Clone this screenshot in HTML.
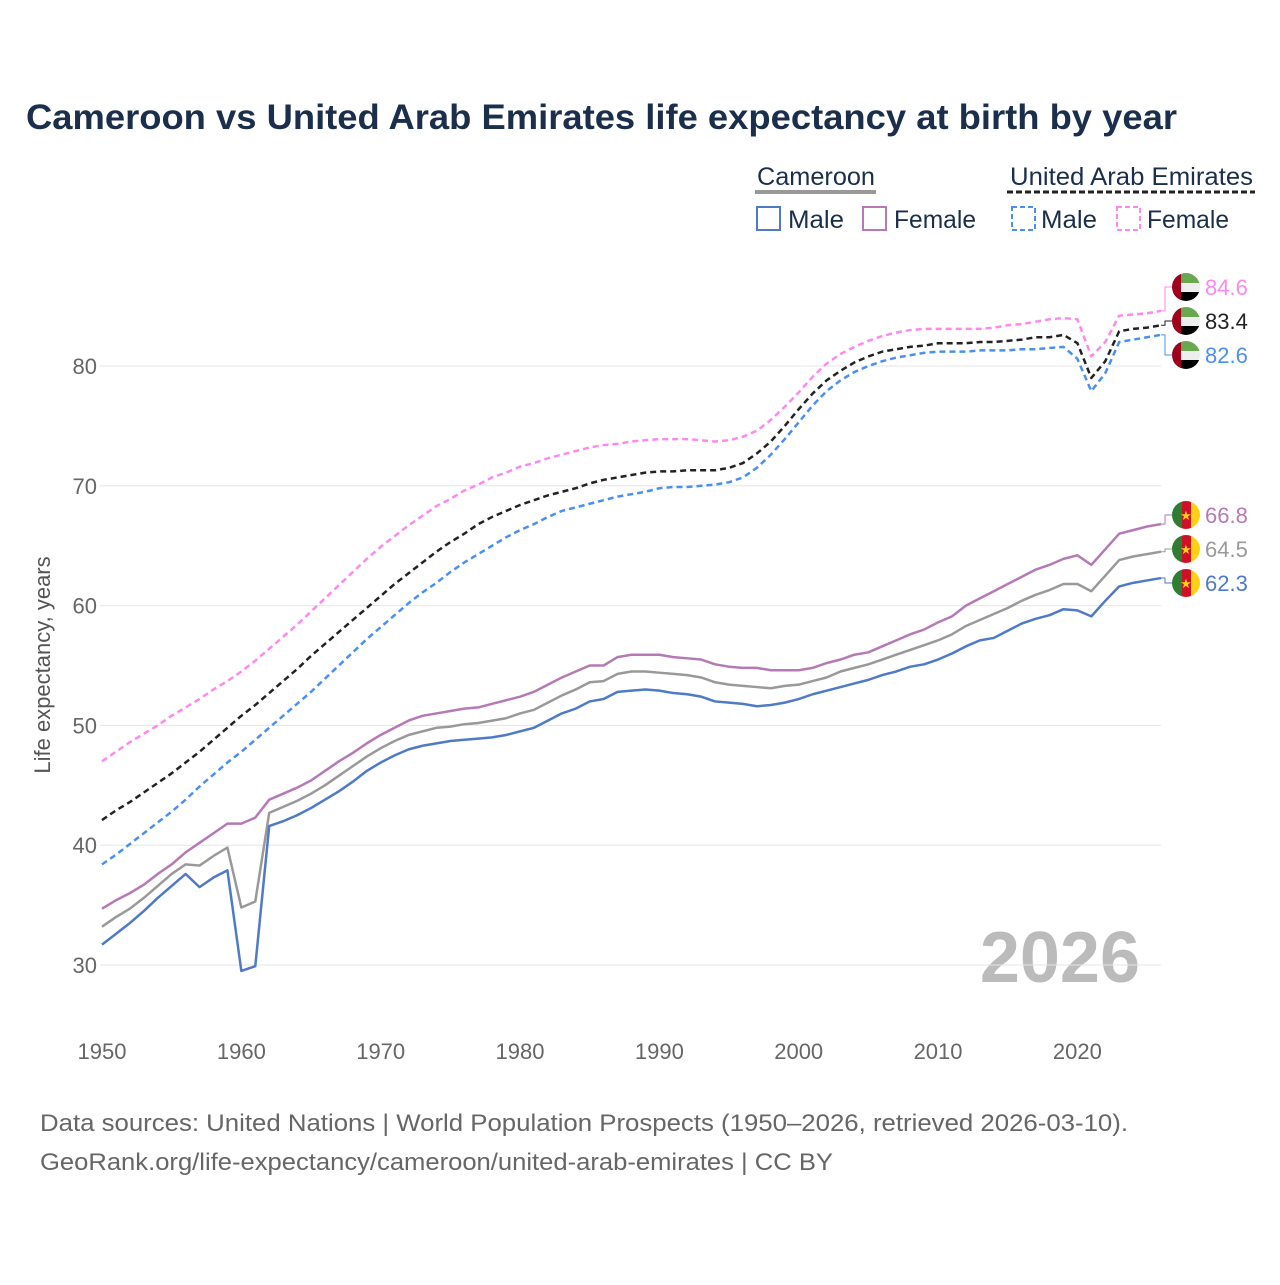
<!DOCTYPE html>
<html><head><meta charset="utf-8"><style>
body{margin:0;background:#fff;width:1280px;height:1280px;overflow:hidden;font-family:"Liberation Sans",sans-serif}
</style></head><body>
<svg id="c" width="1280" height="1280" xmlns="http://www.w3.org/2000/svg" font-family="Liberation Sans, sans-serif">
<text x="26" y="129" font-size="35" font-weight="bold" fill="#1b2f4c" textLength="1151" lengthAdjust="spacingAndGlyphs">Cameroon vs United Arab Emirates life expectancy at birth by year</text>
<g font-size="25" fill="#1b2f4c">
<text x="757" y="185" textLength="118" lengthAdjust="spacingAndGlyphs">Cameroon</text>
<line x1="755" y1="192" x2="876" y2="192" stroke="#999" stroke-width="4"/>
<text x="1010" y="185" textLength="243" lengthAdjust="spacingAndGlyphs">United Arab Emirates</text>
<line x1="1007" y1="192" x2="1255" y2="192" stroke="#222" stroke-width="3" stroke-dasharray="6,3"/>
<g><rect x="757" y="207" width="23" height="23" fill="none" stroke="#4e7ac7" stroke-width="2"/><text x="788" y="228" textLength="56" lengthAdjust="spacingAndGlyphs">Male</text></g>
<g><rect x="863" y="207" width="23" height="23" fill="none" stroke="#b57ab5" stroke-width="2"/><text x="894" y="228" textLength="82" lengthAdjust="spacingAndGlyphs">Female</text></g>
<g><rect x="1012" y="207" width="23" height="23" fill="none" stroke="#4a90f0" stroke-width="2" stroke-dasharray="5,3"/><text x="1041" y="228" textLength="56" lengthAdjust="spacingAndGlyphs">Male</text></g>
<g><rect x="1117" y="207" width="23" height="23" fill="none" stroke="#ff88ee" stroke-width="2" stroke-dasharray="5,3"/><text x="1147" y="228" textLength="82" lengthAdjust="spacingAndGlyphs">Female</text></g>
</g>
<text transform="translate(50,665) rotate(-90)" text-anchor="middle" font-size="22" fill="#555">Life expectancy, years</text>
<text x="1140" y="982" text-anchor="end" font-size="72" font-weight="bold" fill="#bbb">2026</text>
<g id="grid"></g><g id="series"></g><g id="ends"></g>
<text x="40" y="1131" font-size="24" fill="#666" textLength="1088" lengthAdjust="spacingAndGlyphs">Data sources: United Nations | World Population Prospects (1950–2026, retrieved 2026-03-10).</text>
<text x="40" y="1170" font-size="24" fill="#666" textLength="793" lengthAdjust="spacingAndGlyphs">GeoRank.org/life-expectancy/cameroon/united-arab-emirates | CC BY</text>
</svg>
<script>
const years=[];for(let y=1950;y<=2026;y++)years.push(y);
const yTicks=[30,40,50,60,70,80];
const xTicks=[1950,1960,1970,1980,1990,2000,2010,2020];
const camMale=[31.7,32.6,33.5,34.5,35.6,36.6,37.6,36.5,37.3,37.9,29.5,29.9,41.6,42.0,42.5,43.1,43.8,44.5,45.3,46.2,46.9,47.5,48.0,48.3,48.5,48.7,48.8,48.9,49.0,49.2,49.5,49.8,50.4,51.0,51.4,52.0,52.2,52.8,52.9,53.0,52.9,52.7,52.6,52.4,52.0,51.9,51.8,51.6,51.7,51.9,52.2,52.6,52.9,53.2,53.5,53.8,54.2,54.5,54.9,55.1,55.5,56.0,56.6,57.1,57.3,57.9,58.5,58.9,59.2,59.7,59.6,59.1,60.4,61.6,61.9,62.1,62.3];
const camTotal=[33.2,34.0,34.7,35.6,36.6,37.6,38.4,38.3,39.1,39.8,34.8,35.3,42.7,43.2,43.7,44.3,45.0,45.8,46.6,47.4,48.1,48.7,49.2,49.5,49.8,49.9,50.1,50.2,50.4,50.6,51.0,51.3,51.9,52.5,53.0,53.6,53.7,54.3,54.5,54.5,54.4,54.3,54.2,54.0,53.6,53.4,53.3,53.2,53.1,53.3,53.4,53.7,54.0,54.5,54.8,55.1,55.5,55.9,56.3,56.7,57.1,57.6,58.3,58.8,59.3,59.8,60.4,60.9,61.3,61.8,61.8,61.2,62.5,63.8,64.1,64.3,64.5];
const camFemale=[34.7,35.4,36.0,36.7,37.6,38.4,39.4,40.2,41.0,41.8,41.8,42.3,43.8,44.3,44.8,45.4,46.2,47.0,47.7,48.5,49.2,49.8,50.4,50.8,51.0,51.2,51.4,51.5,51.8,52.1,52.4,52.8,53.4,54.0,54.5,55.0,55.0,55.7,55.9,55.9,55.9,55.7,55.6,55.5,55.1,54.9,54.8,54.8,54.6,54.6,54.6,54.8,55.2,55.5,55.9,56.1,56.6,57.1,57.6,58.0,58.6,59.1,60.0,60.6,61.2,61.8,62.4,63.0,63.4,63.9,64.2,63.4,64.7,66.0,66.3,66.6,66.8];
const uaeFemale=[47.0,47.8,48.6,49.3,50.0,50.8,51.5,52.2,53.0,53.7,54.5,55.4,56.4,57.4,58.4,59.5,60.6,61.7,62.8,63.9,64.9,65.8,66.7,67.5,68.3,68.9,69.6,70.1,70.7,71.1,71.6,71.9,72.3,72.6,72.9,73.2,73.4,73.5,73.7,73.8,73.9,73.9,73.9,73.8,73.7,73.8,74.1,74.6,75.5,76.6,77.8,79.1,80.2,81.0,81.6,82.1,82.5,82.8,83.0,83.1,83.1,83.1,83.1,83.1,83.2,83.4,83.5,83.7,83.9,84.0,83.9,80.8,82.0,84.2,84.3,84.4,84.6];
const uaeTotal=[42.1,42.9,43.6,44.4,45.2,46.0,46.9,47.8,48.8,49.8,50.8,51.7,52.7,53.7,54.7,55.8,56.8,57.8,58.8,59.8,60.8,61.8,62.7,63.6,64.5,65.3,66.0,66.8,67.4,67.9,68.4,68.8,69.2,69.5,69.8,70.2,70.5,70.7,70.9,71.1,71.2,71.2,71.3,71.3,71.3,71.5,71.9,72.7,73.7,75.0,76.4,77.7,78.8,79.6,80.3,80.8,81.2,81.4,81.6,81.7,81.9,81.9,81.9,82.0,82.0,82.1,82.2,82.4,82.4,82.6,81.9,79.0,80.4,82.9,83.1,83.2,83.4];
const uaeMale=[38.4,39.2,40.1,41.0,41.9,42.8,43.8,44.9,45.9,46.9,47.8,48.8,49.8,50.8,51.8,52.8,53.9,55.0,56.1,57.2,58.2,59.2,60.2,61.1,61.9,62.8,63.6,64.3,65.0,65.7,66.3,66.8,67.4,67.9,68.2,68.5,68.8,69.1,69.3,69.5,69.8,69.9,69.9,70.0,70.1,70.3,70.7,71.5,72.6,73.9,75.3,76.7,77.9,78.8,79.5,80.0,80.4,80.7,80.9,81.1,81.2,81.2,81.2,81.3,81.3,81.3,81.4,81.4,81.5,81.6,80.6,77.9,79.4,82.0,82.2,82.4,82.6];

const NS='http://www.w3.org/2000/svg';
const X=y=>102+(y-1950)*(1161-102)/76;
const Y=v=>965-(v-30)*11.98;
function mk(tag,attrs,parent){const e=document.createElementNS(NS,tag);for(const k in attrs)e.setAttribute(k,attrs[k]);parent.appendChild(e);return e;}
const grid=document.getElementById('grid');
yTicks.forEach(t=>{
  const l=mk('line',{x1:100,x2:1161,y1:Y(t),y2:Y(t),stroke:'#e6e6e6','stroke-width':1},grid);
  
  
  const tx=mk('text',{x:97,y:Y(t)+8,'text-anchor':'end','font-size':22,fill:'#666'},grid);
  tx.textContent=t;
  
  
});
xTicks.forEach(t=>{
  const tx=mk('text',{x:X(t),y:1059,'text-anchor':'middle','font-size':22,fill:'#666'},grid);
  tx.textContent=t;
  
  
});
const series=[
 {d:uaeFemale,c:'#ff88ee',dash:'6,4',n:'uae-female'},
 {d:uaeTotal,c:'#222',dash:'6,4',n:'uae-total'},
 {d:uaeMale,c:'#4a90f0',dash:'6,4',n:'uae-male'},
 {d:camFemale,c:'#b57ab5',dash:'',n:'cameroon-female'},
 {d:camTotal,c:'#999',dash:'',n:'cameroon-total'},
 {d:camMale,c:'#4e7ac7',dash:'',n:'cameroon-male'}];
const sg=document.getElementById('series');
series.forEach(s=>{
  const p=mk('polyline',{points:s.d.map((v,i)=>X(years[i])+','+Y(v)).join(' '),fill:'none',stroke:s.c,'stroke-width':2.5,'stroke-dasharray':s.dash,'stroke-linejoin':'round'},sg);
  
  
});
const eg=document.getElementById('ends');
const labelYs=[287,321,355,515,549,583];
function flag(cx,cy,uae){
  const g=mk('g',{},eg);
  const id='cl'+cx+cy;
  const cp=mk('clipPath',{id:id},g);mk('circle',{cx:cx,cy:cy,r:14},cp);
  const f=mk('g',{'clip-path':'url(#'+id+')'},g);
  if(uae){
    mk('rect',{x:cx-14,y:cy-14,width:28,height:10,fill:'#6aa84f'},f);
    mk('rect',{x:cx-14,y:cy-4,width:28,height:9,fill:'#eee'},f);
    mk('rect',{x:cx-14,y:cy+5,width:28,height:10,fill:'#000'},f);
    mk('rect',{x:cx-14,y:cy-14,width:9,height:28,fill:'#a0001e'},f);
  }else{
    mk('rect',{x:cx-14,y:cy-14,width:10,height:28,fill:'#2e7d32'},f);
    mk('rect',{x:cx-4,y:cy-14,width:9,height:28,fill:'#ce1126'},f);
    mk('rect',{x:cx+5,y:cy-14,width:10,height:28,fill:'#fcd116'},f);
    const st=mk('text',{x:cx,y:cy+5,'text-anchor':'middle','font-size':13,fill:'#fcd116'},f);st.textContent='★';
  }
  return g;
}
series.forEach((s,i)=>{
  const ly=labelYs[i], last=s.d[s.d.length-1], ey=Y(last);
  const c=mk('polyline',{points:`1161,${ey} 1165,${ey} 1165,${ly} 1172,${ly}`,fill:'none',stroke:s.c,'stroke-width':1},eg);
  
  
  const fg=flag(1186,ly,i<3);
  
  
  const t=mk('text',{x:1205,y:ly+8,'font-size':22,fill:s.c},eg);
  t.textContent=last.toFixed(1);
  
  
});
</script>
</body></html>
